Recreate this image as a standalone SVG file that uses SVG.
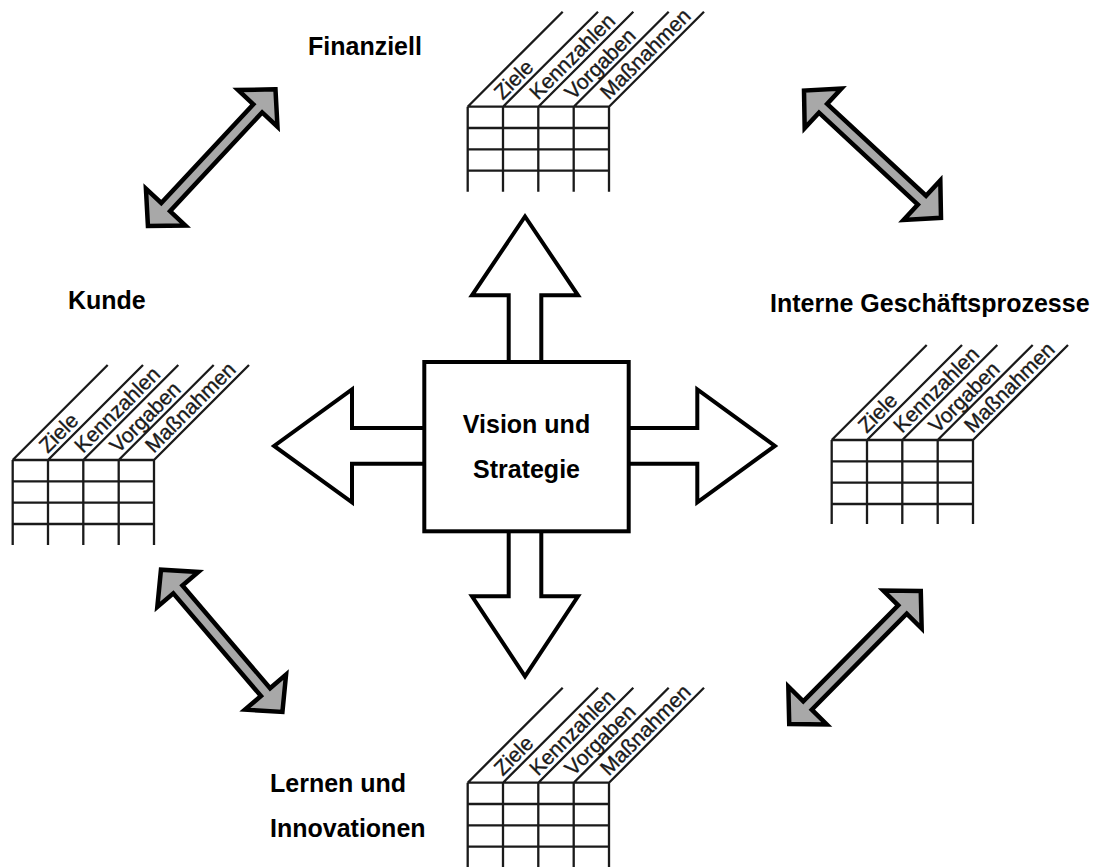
<svg xmlns="http://www.w3.org/2000/svg" width="1106" height="867" viewBox="0 0 1106 867">
<style>
.lbl{font-family:"Liberation Sans",Arial,sans-serif;font-weight:bold;font-size:25px;fill:#000}
.col{font-family:"Liberation Sans",Arial,sans-serif;font-size:21px;fill:#1a1a1a;stroke:#1a1a1a;stroke-width:0.35}
.grid{fill:none;stroke:#1a1a1a;stroke-width:2.3}
.dbl{fill:#a8a8a8;stroke:#000;stroke-width:4.5;stroke-linejoin:miter}
.big{fill:#fff;stroke:#000;stroke-width:4;stroke-linejoin:miter}
</style>
<defs>
<polygon id="dbl" points="93.5,0 67.5,-27 67.5,-6 -67.5,-6 -67.5,-27 -93.5,0 -67.5,27 -67.5,6 67.5,6 67.5,27"/>
</defs>
<rect width="1106" height="867" fill="#fff"/>

<g id="connectors">
<use href="#dbl" class="dbl" transform="translate(211.7,157.7) rotate(-47)"/>
<use href="#dbl" class="dbl" transform="translate(872.5,154.2) rotate(42.9)"/>
<use href="#dbl" class="dbl" transform="translate(221.7,640.8) rotate(49.5)"/>
<use href="#dbl" class="dbl" transform="translate(855,657.5) rotate(-45.3)"/>
<path class="big" d="M508.7,362 V295.3 H472 L525,216.5 L578,295.3 H541.3 V362"/>
<path class="big" d="M508.7,531.3 V596.3 H472 L525,676.4 L578,596.3 H541.3 V531.3"/>
<path class="big" d="M424.3,428 H352 V389.5 L274.1,445.9 L352,502.3 V463.7 H424.3"/>
<path class="big" d="M628.7,428 H697.3 V389.5 L774.9,445.9 L697.3,502.3 V463.7 H628.7"/>
</g>

<g id="vision">
<rect class="big" x="424.3" y="362" width="204.4" height="169.3"/>
<text class="lbl" x="526.5" y="433.3" text-anchor="middle">Vision und</text>
<text class="lbl" x="526.5" y="478.3" text-anchor="middle">Strategie</text>
</g>

<g id="finanziell">
<text class="lbl" x="308" y="55">Finanziell</text>
<g transform="translate(467.7,106.7)">
<path class="grid" d="M0,0V85M35.3,0V85M70.6,0V85M106,0V85M141.3,0V85M0,0H141.3M0,21.3H141.3M0,42.6H141.3M0,64H141.3M0,0L95,-95M35.3,0L130.3,-95M70.6,0L165.6,-95M106,0L201,-95M141.3,0L236.3,-95"/>
<text class="col" transform="translate(35.3,0) rotate(-45)" x="4" y="-4.5">Ziele</text>
<text class="col" transform="translate(70.6,0) rotate(-45)" x="4" y="-4.5">Kennzahlen</text>
<text class="col" transform="translate(106,0) rotate(-45)" x="4" y="-4.5">Vorgaben</text>
<text class="col" transform="translate(141.3,0) rotate(-45)" x="4" y="-4.5">Maßnahmen</text>
</g>
</g>

<g id="kunde">
<text class="lbl" x="68" y="309">Kunde</text>
<g transform="translate(12.7,460)">
<path class="grid" d="M0,0V85M35.3,0V85M70.6,0V85M106,0V85M141.3,0V85M0,0H141.3M0,21.3H141.3M0,42.6H141.3M0,64H141.3M0,0L95,-95M35.3,0L130.3,-95M70.6,0L165.6,-95M106,0L201,-95M141.3,0L236.3,-95"/>
<text class="col" transform="translate(35.3,0) rotate(-45)" x="4" y="-4.5">Ziele</text>
<text class="col" transform="translate(70.6,0) rotate(-45)" x="4" y="-4.5">Kennzahlen</text>
<text class="col" transform="translate(106,0) rotate(-45)" x="4" y="-4.5">Vorgaben</text>
<text class="col" transform="translate(141.3,0) rotate(-45)" x="4" y="-4.5">Maßnahmen</text>
</g>
</g>

<g id="interne">
<text class="lbl" x="770" y="311.7">Interne Geschäftsprozesse</text>
<g transform="translate(831.7,440)">
<path class="grid" d="M0,0V84M35.3,0V84M70.6,0V84M106,0V84M141.3,0V84M0,0H141.3M0,21.3H141.3M0,42.6H141.3M0,64H141.3M0,0L95,-95M35.3,0L130.3,-95M70.6,0L165.6,-95M106,0L201,-95M141.3,0L236.3,-95"/>
<text class="col" transform="translate(35.3,0) rotate(-45)" x="4" y="-4.5">Ziele</text>
<text class="col" transform="translate(70.6,0) rotate(-45)" x="4" y="-4.5">Kennzahlen</text>
<text class="col" transform="translate(106,0) rotate(-45)" x="4" y="-4.5">Vorgaben</text>
<text class="col" transform="translate(141.3,0) rotate(-45)" x="4" y="-4.5">Maßnahmen</text>
</g>
</g>

<g id="lernen">
<text class="lbl" x="270" y="791.7">Lernen und</text>
<text class="lbl" x="270" y="837.3">Innovationen</text>
<g transform="translate(467.7,782.7)">
<path class="grid" d="M0,0V85M35.3,0V85M70.6,0V85M106,0V85M141.3,0V85M0,0H141.3M0,21.3H141.3M0,42.6H141.3M0,64H141.3M0,0L95,-95M35.3,0L130.3,-95M70.6,0L165.6,-95M106,0L201,-95M141.3,0L236.3,-95"/>
<text class="col" transform="translate(35.3,0) rotate(-45)" x="4" y="-4.5">Ziele</text>
<text class="col" transform="translate(70.6,0) rotate(-45)" x="4" y="-4.5">Kennzahlen</text>
<text class="col" transform="translate(106,0) rotate(-45)" x="4" y="-4.5">Vorgaben</text>
<text class="col" transform="translate(141.3,0) rotate(-45)" x="4" y="-4.5">Maßnahmen</text>
</g>
</g>
</svg>
